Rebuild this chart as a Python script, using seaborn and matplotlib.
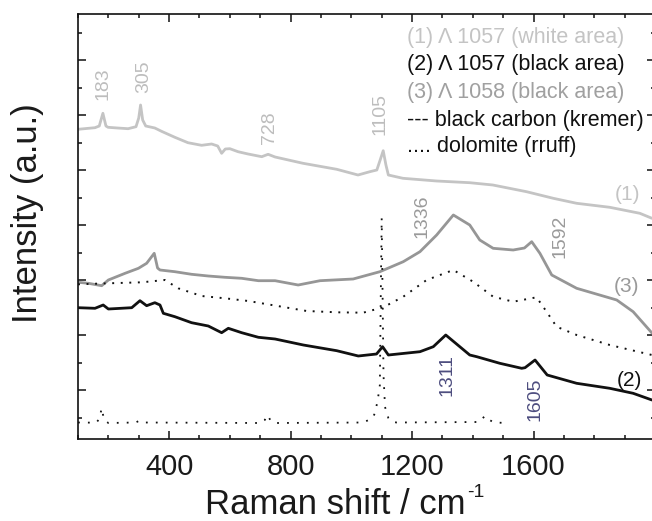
import matplotlib
matplotlib.use("Agg")
import matplotlib.pyplot as plt
from matplotlib.ticker import MultipleLocator, FixedLocator, NullFormatter
import seaborn as sns

# ---- data (Raman shift in cm-1, intensity in arbitrary units) ----
x1 = [100, 156, 170, 182, 192, 199, 230, 265, 291, 300, 306, 313, 323, 353, 375, 419, 462, 507,
      540, 560, 573, 585, 600, 627, 660, 705, 726, 749, 841, 952, 1022, 1061, 1084, 1095, 1105,
      1114, 1122, 1170, 1281, 1390, 1466, 1577, 1665, 1742, 1851, 1950, 1990]
y1 = [315.7, 317.3, 319, 331.7, 319, 317.7, 317, 316.3, 318.3, 327, 340, 325, 319, 317, 313.7,
      307.7, 302.3, 299.7, 301, 299, 291.7, 296, 296.3, 293.3, 291, 288.3, 290.7, 288, 281.7,
      275.7, 270, 273.3, 275, 285, 294.3, 280, 270, 266.7, 264, 262.3, 260, 253.3, 246.7, 241.7,
      237.7, 231.7, 226.7]

x2 = [100, 156, 183, 200, 277, 304, 326, 353, 370, 381, 419, 474, 529, 573, 595, 639, 694, 749,
      842, 952, 1023, 1083, 1103, 1122, 1226, 1270, 1311, 1390, 1413, 1489, 1561, 1572, 1605,
      1645, 1742, 1851, 1928, 1990]
y2 = [137.3, 136.7, 140, 136, 137.3, 144.3, 139.3, 142.3, 140, 131.7, 128.3, 122.3, 119, 112.3,
      116.7, 112.3, 107.7, 106, 100, 94.3, 89, 91, 98.3, 90, 93.3, 98.3, 110, 90, 88.3, 81.7,
      76.7, 77.3, 85, 70, 61.7, 56.7, 51.7, 45]

x3 = [100, 134, 178, 200, 255, 299, 326, 351, 362, 370, 419, 474, 529, 584, 639, 694, 749, 825,
      897, 1006, 1094, 1171, 1226, 1281, 1336, 1390, 1423, 1467, 1533, 1570, 1594, 1621, 1660,
      1742, 1874, 1928, 1990]
y3 = [162.7, 161.7, 159.3, 165, 171.7, 176.7, 181.7, 191.7, 177, 175, 173.3, 170.7, 169, 167.7,
      166.7, 164.3, 164.3, 160, 164.3, 166, 173.3, 183.3, 193.3, 210, 230, 220, 205, 196.7, 195,
      197, 203.3, 191.7, 170, 156.7, 145, 133.3, 112]

x_bc = [100, 200, 310, 386, 430, 507, 584, 661, 738, 853, 952, 1039, 1105, 1171, 1248, 1336,
        1401, 1467, 1533, 1610, 1643, 1676, 1742, 1851, 1990]
y_bc = [160.7, 161.7, 162.7, 165, 156.7, 149, 146.7, 144, 140, 134, 132.7, 132.3, 137.7, 148.3,
        165, 175, 163.3, 148.3, 143.3, 147.7, 133.3, 118.3, 110, 100, 90]

x_dol = [100, 160, 170, 178, 186, 200, 290, 300, 310, 700, 715, 724, 735, 750, 1040, 1070, 1078,
         1087, 1094, 1097, 1100, 1103, 1106, 1111, 1122, 1135, 1150, 1420, 1440, 1455, 1470, 1515]
y_dol = [22.5, 22.3, 26, 36.7, 25, 22, 22.5, 24, 22.5, 22, 25, 30, 24, 22, 22.5, 27, 32, 45, 60,
         150, 227, 150, 70, 38, 27, 23, 22.5, 23, 29, 25, 22.5, 22]

x_ticks = [400, 800, 1200, 1600]

# peak annotations
peak_labels = ["183", "305", "728", "1105", "1336", "1592", "1311", "1605"]
peak_x = [181, 316, 732, 1094, 1232, 1687, 1315, 1605]
peak_y = [361, 368.5, 317.5, 331, 229, 209, 70, 46]
peak_col = ["#bdbdbd", "#bdbdbd", "#bdbdbd", "#bdbdbd", "#9a9a9a", "#9a9a9a", "#4d4d7f", "#4d4d7f"]

curve_tags = ["(1)", "(3)", "(2)"]
tag_x = [1911, 1907, 1917]
tag_y = [251, 158, 65]
tag_col = ["#c4c4c4", "#9a9a9a", "#111111"]

legend_lines = ["(1) \u039b 1057 (white area)", "(2) \u039b 1057 (black area)",
                "(3) \u039b 1058 (black area)", "--- black carbon (kremer)", ".... dolomite (rruff)"]
legend_cols = ["#c4c4c4", "#111111", "#a0a0a0", "#111111", "#111111"]
legend_x = 1183
legend_y = [408, 381, 353, 325, 299]

# ---- figure ----
sns.set_theme(style="ticks")
plt.rcParams["font.family"] = ["Liberation Sans", "DejaVu Sans"]

fig = plt.figure(figsize=(6.52, 5.21), dpi=100)
ax = fig.add_axes([78 / 652, 82 / 521, 577 / 652, 425 / 521])

sns.lineplot(x=x1, y=y1, ax=ax, color="#c4c4c4", lw=2.0, sort=False)
sns.lineplot(x=x3, y=y3, ax=ax, color="#969696", lw=2.0, sort=False)
sns.lineplot(x=x2, y=y2, ax=ax, color="#111111", lw=2.0, sort=False)
sns.lineplot(x=x_bc, y=y_bc, ax=ax, color="#111111", lw=1.4, linestyle=(0, (1, 3.4)), sort=False)
sns.lineplot(x=x_dol, y=y_dol, ax=ax, color="#111111", lw=1.3, linestyle=(0, (1, 4.5)), sort=False)

ax.set_xlim(100, 2000)
ax.set_ylim(6, 431)

ax.xaxis.set_major_locator(FixedLocator(x_ticks))
ax.xaxis.set_minor_locator(MultipleLocator(100))
ax.yaxis.set_major_locator(MultipleLocator(55))
ax.yaxis.set_minor_locator(MultipleLocator(27.5))
ax.yaxis.set_major_formatter(NullFormatter())

ax.tick_params(which="both", direction="in", top=True, right=True, color="#111111", width=1.1)
ax.tick_params(which="major", length=6)
ax.tick_params(which="minor", length=3)
ax.tick_params(axis="x", which="major", labelsize=21, pad=10, labelcolor="#1a1a1a")
for s in ax.spines.values():
    s.set_linewidth(1.2)
    s.set_color("#111111")

ax.set_xlabel("Raman shift / cm", fontsize=25, color="#1a1a1a", va="baseline", ha="center")
ax.xaxis.set_label_coords(0.4454, -0.1775)
ax.text(0.675, -0.107, "-1", transform=ax.transAxes, fontsize=14, color="#1a1a1a",
        ha="left", va="top")
ax.set_ylabel("Intensity (a.u.)", fontsize=25, color="#1a1a1a", va="center")
ax.yaxis.set_label_coords(-0.0867, 0.5306)

for t, x, y, c in zip(peak_labels, peak_x, peak_y, peak_col):
    ax.text(x, y, t, rotation=90, ha="center", va="center", fontsize=14, color=c)
for t, x, y, c in zip(curve_tags, tag_x, tag_y, tag_col):
    ax.text(x, y, t, ha="center", va="center", fontsize=15, color=c)
for t, y, c in zip(legend_lines, legend_y, legend_cols):
    ax.text(legend_x, y, t, ha="left", va="center", fontsize=15.5, color=c)

fig.savefig("out.png", dpi=100)
